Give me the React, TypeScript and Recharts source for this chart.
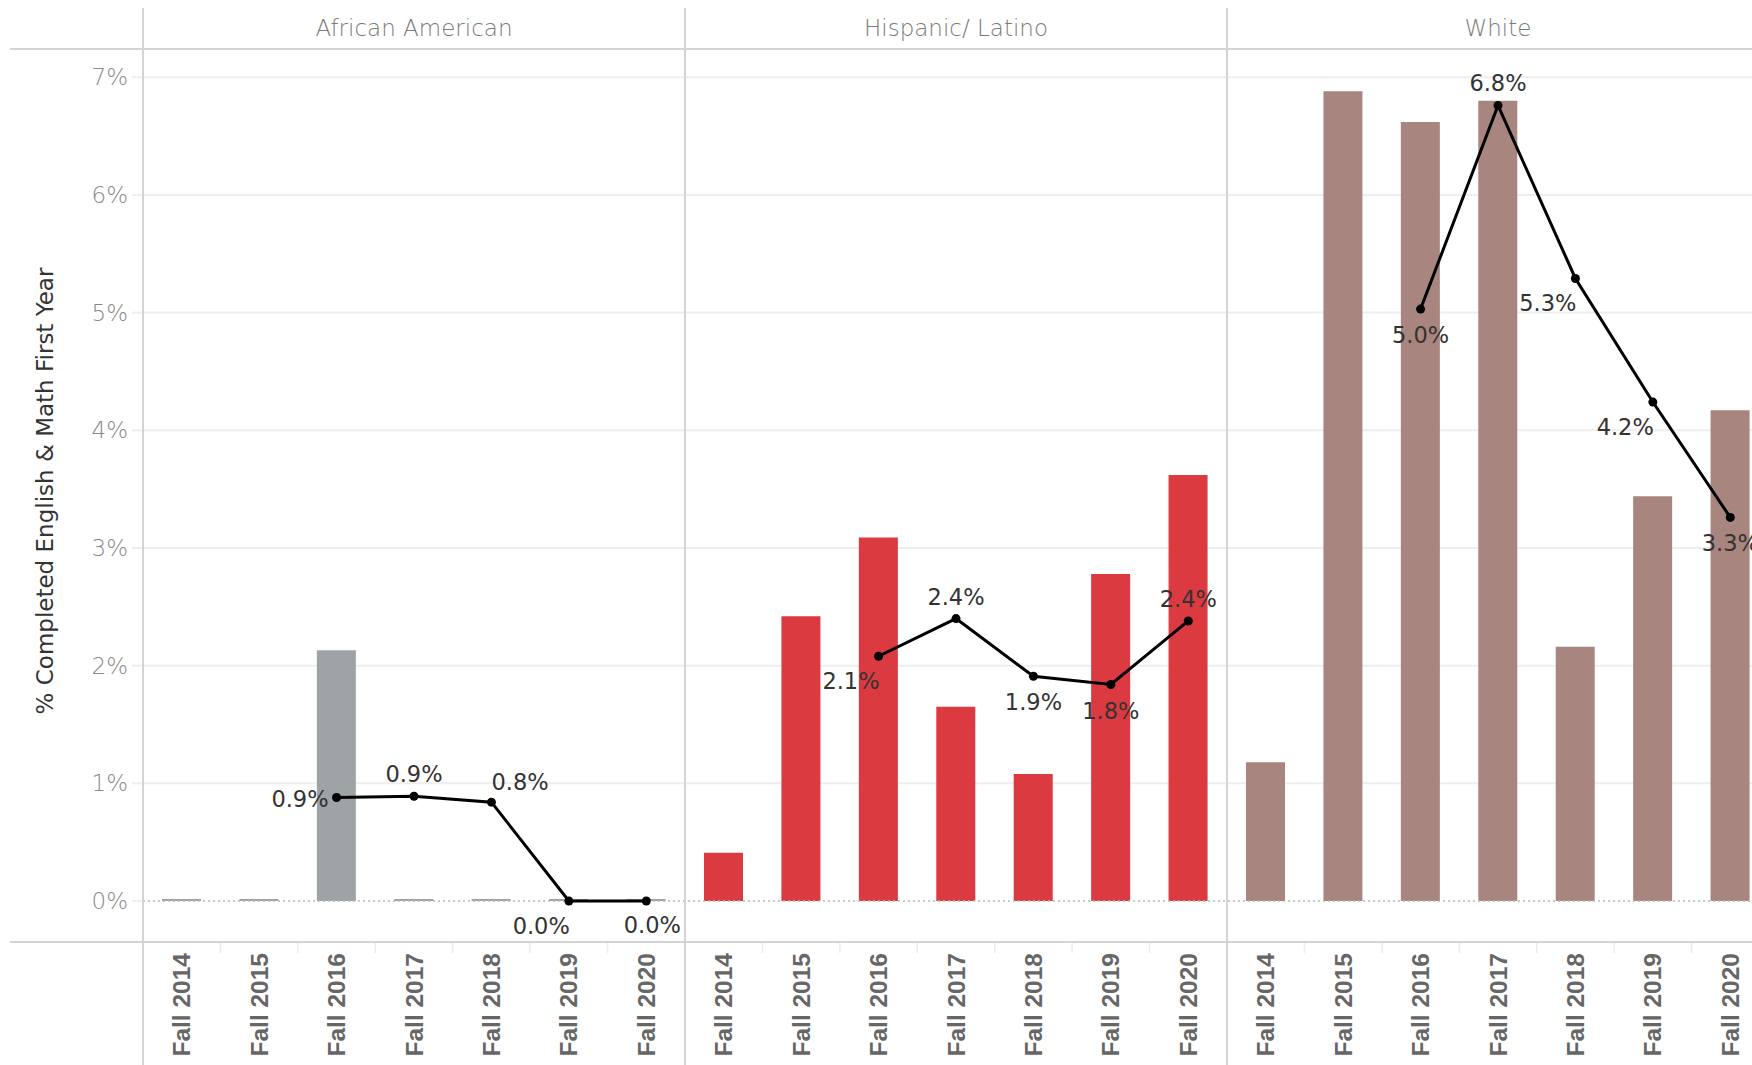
import React from 'react'
import { ComposedChart, Bar, Line, XAxis, YAxis, ReferenceLine, Cell, LabelList, CartesianGrid } from 'recharts'

const groups = ['African American', 'Hispanic/ Latino', 'White']
const terms = ['Fall 2014', 'Fall 2015', 'Fall 2016', 'Fall 2017', 'Fall 2018', 'Fall 2019', 'Fall 2020']

// bars: % completed, line: 3-term comparison (starts Fall 2016)
const africanAmericanBars = [0, 0, 2.13, 0, 0, 0, 0]
const hispanicBars = [0.41, 2.42, 3.09, 1.65, 1.08, 2.78, 3.62]
const whiteBars = [1.18, 6.88, 6.62, 6.8, 2.16, 3.44, 4.17]

const africanAmericanLine = [null, null, 0.88, 0.89, 0.84, 0, 0]
const hispanicLine = [null, null, 2.08, 2.4, 1.91, 1.84, 2.38]
const whiteLine = [null, null, 5.03, 6.76, 5.29, 4.24, 3.26]

const yTicks = [0, 1, 2, 3, 4, 5, 6, 7]

const groupColors = ['#9ea4a5', '#dc3a41', '#a8867f']

// where each line label sits relative to its point
const labelSpots = [
  [null, null, 'left', 'above', 'aboveRight', 'belowLeft', 'belowRight'],
  [null, null, 'belowLeft', 'above', 'below', 'below', 'above'],
  [null, null, 'below', 'above', 'belowLeft', 'belowLeft', 'below'],
]
const spotStyle: Record<string, { anchor: string; dx: number; dy: number }> = {
  above: { anchor: 'middle', dx: 0, dy: -22 },
  below: { anchor: 'middle', dx: 0, dy: 26 },
  left: { anchor: 'end', dx: -8, dy: 2 },
  aboveRight: { anchor: 'start', dx: 0, dy: -20 },
  belowLeft: { anchor: 'end', dx: 1, dy: 25 },
  belowRight: { anchor: 'middle', dx: 6, dy: 24 },
}

const barSets = [africanAmericanBars, hispanicBars, whiteBars]
const lineSets = [africanAmericanLine, hispanicLine, whiteLine]

const data = groups.flatMap((g, gi) =>
  terms.map((t, ti) => ({
    key: g + '|' + t,
    term: t,
    gi,
    bar: barSets[gi][ti],
    line: lineSets[gi][ti],
    spot: labelSpots[gi][ti],
  }))
)

const FONT = '"DejaVu Sans", "Open Sans", sans-serif'

const W = 1800
const H = 1065
const PLOT_LEFT = 143
const PLOT_TOP = 49
const AXIS_H = 123
const BAND = 542 / 7
const PLOT_RIGHT = PLOT_LEFT + BAND * 21
const AXIS_Y = H - AXIS_H

function YTick(props: any) {
  const { x, y, payload } = props
  return (
    <text x={x} y={y} textAnchor="end" dominantBaseline="central" fontSize={23} fill="#8a8a8a" fontFamily={FONT} fontWeight={300}>
      {payload.value}%
    </text>
  )
}

function XTick(props: any) {
  const { x, y, payload } = props
  const label = String(payload.value).split('|')[1]
  return (
    <text
      x={x}
      y={y}
      transform={`rotate(-90 ${x} ${y})`}
      textAnchor="end"
      dominantBaseline="central"
      fontSize={24.5}
      fontWeight="bold"
      fill="#666"
      fontFamily='"Liberation Sans", Arial, sans-serif'
    >
      {label}
    </text>
  )
}

function PointLabel(props: any) {
  const { x, y, value, index } = props
  if (value == null) return null
  const spot = data[index]?.spot
  if (!spot) return null
  const s = spotStyle[spot]
  return (
    <text x={x + s.dx} y={y + s.dy} textAnchor={s.anchor} dominantBaseline="central" fontSize={22.5} fill="#333" fontFamily={FONT}>
      {Number(value).toFixed(1)}%
    </text>
  )
}

export default function App() {
  const panelXs = [0, 1, 2, 3].map((k) => PLOT_LEFT + k * 7 * BAND)
  const sepXs = Array.from({ length: 21 }, (_, i) => PLOT_LEFT + i * BAND).filter((_, i) => i % 7 !== 0)
  return (
    <div style={{ position: 'absolute', left: 0, top: 0, width: 1752, height: 1065, overflow: 'hidden', background: '#fff' }}>
      <ComposedChart width={W} height={H} data={data} margin={{ top: PLOT_TOP, right: W - PLOT_RIGHT, bottom: 0, left: 0 }}>
        <CartesianGrid vertical={false} horizontalValues={[1, 2, 3, 4, 5, 6, 7]} stroke="#eeeeee" strokeWidth={2} />
        <XAxis dataKey="key" interval={0} height={AXIS_H} tickLine={false} axisLine={false} tickSize={0} tickMargin={11} tick={<XTick />} />
        <YAxis
          type="number"
          domain={[-0.348, 7.24]}
          allowDataOverflow
          ticks={yTicks}
          width={PLOT_LEFT}
          axisLine={false}
          tickSize={11}
          tickMargin={4}
          tickLine={{ stroke: '#eeeeee', strokeWidth: 2 }}
          tick={<YTick />}
        />
        <ReferenceLine y={0} stroke="#b8b8b8" strokeDasharray="2 3" strokeWidth={1.5} />
        <Bar dataKey="bar" barSize={39} minPointSize={2} isAnimationActive={false}>
          {data.map((d) => (
            <Cell key={d.key} fill={groupColors[d.gi]} />
          ))}
        </Bar>
        <Line
          dataKey="line"
          stroke="#000"
          strokeWidth={3}
          dot={{ r: 4.5, fill: '#000', stroke: 'none' }}
          activeDot={false}
          connectNulls={false}
          isAnimationActive={false}
        >
          <LabelList dataKey="line" content={<PointLabel />} />
        </Line>
      </ComposedChart>
      <svg width={1752} height={1065} style={{ position: 'absolute', left: 0, top: 0, pointerEvents: 'none' }}>
        {sepXs.map((x, i) => (
          <line key={'s' + i} x1={x} x2={x} y1={AXIS_Y + 1} y2={AXIS_Y + 11} stroke="#ececec" strokeWidth={1.5} />
        ))}
        <line x1={10} x2={1752} y1={PLOT_TOP} y2={PLOT_TOP} stroke="#d4d4d4" strokeWidth={2} />
        <line x1={10} x2={1752} y1={AXIS_Y} y2={AXIS_Y} stroke="#d4d4d4" strokeWidth={2} />
        {panelXs.map((x, i) => (
          <line key={'p' + i} x1={x} x2={x} y1={8} y2={1065} stroke="#d4d4d4" strokeWidth={2} />
        ))}
        {groups.map((g, i) => (
          <text
            key={g}
            x={PLOT_LEFT + (i + 0.5) * 7 * BAND}
            y={28}
            textAnchor="middle"
            dominantBaseline="central"
            fontSize={23}
            fill="#7a7a7a"
            fontWeight={300}
            fontFamily={FONT}
          >
            {g}
          </text>
        ))}
        <text
          x={45}
          y={491}
          transform="rotate(-90 45 491)"
          textAnchor="middle"
          dominantBaseline="central"
          fontSize={23}
          fill="#333"
          fontFamily={FONT}
        >
          % Completed English &amp; Math First Year
        </text>
      </svg>
    </div>
  )
}
